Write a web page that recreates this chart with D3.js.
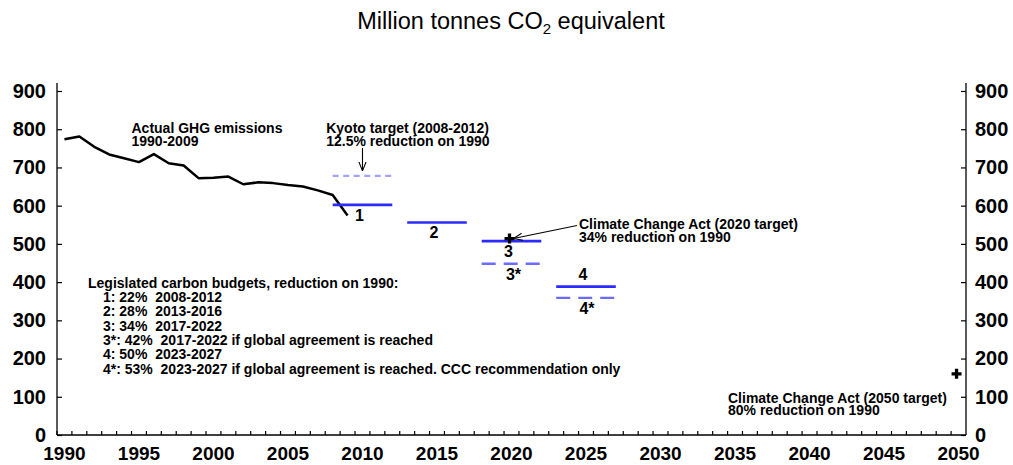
<!DOCTYPE html>
<html>
<head>
<meta charset="utf-8">
<script src="https://cdn.jsdelivr.net/npm/d3@7"></script>
<style>
  body { margin: 0; background: #fff; }
  text { font-family: "Liberation Sans", Arial, sans-serif; white-space: pre; }
</style>
</head>
<body>
<div id="chart"></div>
<script>
// data
var allYears = [1990,1991,1992,1993,1994,1995,1996,1997,1998,1999,2000,2001,2002,2003,2004,2005,2006,2007,2008,2009,
  2010,2011,2012,2013,2014,2015,2016,2017,2018,2019,2020,2021,2022,2023,2024,2025,2026,2027,2028,2029,
  2030,2031,2032,2033,2034,2035,2036,2037,2038,2039,2040,2041,2042,2043,2044,2045,2046,2047,2048,2049,2050];
var labelYears = [1990,1995,2000,2005,2010,2015,2020,2025,2030,2035,2040,2045,2050];
var yTicks = [0,100,200,300,400,500,600,700,800,900];

var emissionYears = [1990,1991,1992,1993,1994,1995,1996,1997,1998,1999,2000,2001,2002,2003,2004,2005,2006,2007,2008,2009];
var emissions = [774,781,754,734,724,714,735,711,705,672,673,676,656,661,659,654,650,640,628,574];

// legislated budgets (solid)
var budgetNames = ["1","2","3","4"];
var budgetStart = [2008,2013,2018,2023];
var budgetEnd = [2012,2017,2022,2027];
var budgetValues = [602,556,507,388];
var budgetLabelYear = [2010,2015,2020,2025];

// dashed targets
var dashNames = ["kyoto","3*","4*"];
var dashStart = [2008,2018,2023];
var dashEnd = [2012,2022,2027];
var dashValues = [678,448,359];

// Climate Change Act point targets
var crossYears = [2020,2050];
var crossValues = [514,160];

var legendLines = [
  "Legislated carbon budgets, reduction on 1990:",
  "1: 22%  2008-2012",
  "2: 28%  2013-2016",
  "3: 34%  2017-2022",
  "3*: 42%  2017-2022 if global agreement is reached",
  "4: 50%  2023-2027",
  "4*: 53%  2023-2027 if global agreement is reached. CCC recommendation only"
];

var width = 1013, height = 465;
var plotL = 57, plotR = 966, plotT = 91, plotB = 435;

var svg = d3.select("#chart").append("svg")
  .attr("width", width)
  .attr("height", height);

var x = d3.scaleBand().domain(allYears).range([plotL, plotR]).padding(0);
var y = d3.scaleLinear().domain([0, 900]).range([plotB, plotT]);
var cx = function(yr) { return x(yr) + x.bandwidth() / 2; };

svg.append("defs").append("marker")
  .attr("id", "arrow")
  .attr("viewBox", "0 0 10 10")
  .attr("refX", 10).attr("refY", 5)
  .attr("markerWidth", 9).attr("markerHeight", 9)
  .attr("markerUnits", "userSpaceOnUse")
  .attr("orient", "auto")
  .append("path")
  .attr("d", "M0,1 L10,5 L0,9")
  .attr("fill", "none")
  .attr("stroke", "#000")
  .attr("stroke-width", 1.2);

// title
var title = svg.append("text")
  .attr("x", 511).attr("y", 29)
  .attr("text-anchor", "middle")
  .style("font-size", "23.5px")
  .text("Million tonnes CO");
title.append("tspan").attr("dy", 5).style("font-size", "15px").text("2");
title.append("tspan").attr("dy", -5).text(" equivalent");

// axes
var yLeft = svg.append("g")
  .attr("transform", "translate(" + plotL + ",0)")
  .call(d3.axisLeft(y).tickValues(yTicks).tickSizeInner(-5).tickSizeOuter(0).tickPadding(11));
var yRight = svg.append("g")
  .attr("transform", "translate(" + plotR + ",0)")
  .call(d3.axisRight(y).tickValues(yTicks).tickSizeInner(-5).tickSizeOuter(0).tickPadding(9));
[yLeft, yRight].forEach(function(g) {
  g.select(".domain").attr("d", "M0," + plotB + "V" + (plotT - 8)).attr("stroke-width", 1.3);
  g.selectAll("line").attr("stroke-width", 1.2);
  g.selectAll("text").style("font-size", "20px").style("font-weight", "bold").attr("fill", "#000");
});

svg.append("line")
  .attr("x1", plotL).attr("x2", plotR)
  .attr("y1", plotB).attr("y2", plotB)
  .attr("stroke", "#000").attr("stroke-width", 1.3);

svg.selectAll(".xtick")
  .data(allYears)
  .enter().append("line")
  .attr("class", "xtick")
  .attr("x1", function(d) { return x(d); })
  .attr("x2", function(d) { return x(d); })
  .attr("y1", plotB).attr("y2", plotB - 4)
  .attr("stroke", "#000").attr("stroke-width", 1.2);

svg.selectAll(".xlabel")
  .data(labelYears)
  .enter().append("text")
  .attr("class", "xlabel")
  .attr("x", function(d) { return cx(d); })
  .attr("y", 460)
  .attr("text-anchor", "middle")
  .style("font-size", "19px")
  .style("font-weight", "bold")
  .text(function(d) { return d; });

// emissions line
var line = d3.line()
  .x(function(d, i) { return cx(emissionYears[i]); })
  .y(function(d) { return y(d); });
svg.append("path")
  .datum(emissions)
  .attr("d", line)
  .attr("fill", "none")
  .attr("stroke", "#000")
  .attr("stroke-width", 2.5)
  .attr("stroke-linejoin", "round");

// dashed targets
var dashColor = ["#a3a3ff", "#6b6bff", "#6b6bff"];
var dashArray = ["6,4.5", "14,8", "14,8"];
dashNames.forEach(function(n, i) {
  svg.append("line")
    .attr("x1", cx(dashStart[i])).attr("x2", cx(dashEnd[i]))
    .attr("y1", y(dashValues[i])).attr("y2", y(dashValues[i]))
    .attr("stroke", dashColor[i])
    .attr("stroke-width", 2.3)
    .attr("stroke-dasharray", dashArray[i]);
});

// budgets
budgetNames.forEach(function(n, i) {
  svg.append("line")
    .attr("x1", cx(budgetStart[i])).attr("x2", cx(budgetEnd[i]))
    .attr("y1", y(budgetValues[i])).attr("y2", y(budgetValues[i]))
    .attr("stroke", "#2b2bff")
    .attr("stroke-width", 2.7);
  svg.append("text")
    .attr("x", cx(budgetLabelYear[i]) - 3)
    .attr("y", n == "4" ? y(budgetValues[i]) - 7 : y(budgetValues[i]) + 16)
    .attr("text-anchor", "middle")
    .style("font-size", "16px").style("font-weight", "bold")
    .text(n);
});
svg.append("text")
  .attr("x", cx(2020) + 2).attr("y", y(dashValues[1]) + 16)
  .attr("text-anchor", "middle")
  .style("font-size", "16px").style("font-weight", "bold")
  .text("3*");
svg.append("text")
  .attr("x", cx(2025) + 1).attr("y", y(dashValues[2]) + 16)
  .attr("text-anchor", "middle")
  .style("font-size", "16px").style("font-weight", "bold")
  .text("4*");

// crosses
svg.selectAll(".cross")
  .data(crossValues)
  .enter().append("path")
  .attr("class", "cross")
  .attr("transform", function(d, i) { return "translate(" + (cx(crossYears[i]) - 2) + "," + y(d) + ")"; })
  .attr("d", d3.symbol().type(d3.symbolCross).size(55))
  .attr("fill", "#000");

// annotations
function note(x0, y0, lines, gap, anchor) {
  var t = svg.append("text")
    .attr("x", x0).attr("y", y0)
    .attr("text-anchor", anchor || "start")
    .style("font-size", "14px").style("font-weight", "bold");
  lines.forEach(function(s, i) {
    t.append("tspan").attr("x", x0).attr("dy", i == 0 ? 0 : gap).text(s);
  });
}
note(x(1995), 133, ["Actual GHG emissions", "1990-2009"], 13);
note(x(2008) + 1, 133, ["Kyoto target (2008-2012)", "12.5% reduction on 1990"], 13);
note(579, 228.5, ["Climate Change Act (2020 target)", "34% reduction on 1990"], 13);
note(728, 403, ["Climate Change Act (2050 target)", "80% reduction on 1990"], 11.5);
note(88, 288, [legendLines[0]], 14);
note(103, 302, legendLines.slice(1), 14.3);

svg.append("line")
  .attr("x1", cx(2010)).attr("x2", cx(2010))
  .attr("y1", 148).attr("y2", y(dashValues[0]) - 5)
  .attr("stroke", "#000").attr("stroke-width", 1.1)
  .attr("marker-end", "url(#arrow)");
svg.append("line")
  .attr("x1", 577).attr("x2", cx(2020) + 2)
  .attr("y1", 225.5).attr("y2", y(crossValues[0]))
  .attr("stroke", "#000").attr("stroke-width", 1.1)
  .attr("marker-end", "url(#arrow)");
</script>
</body>
</html>
